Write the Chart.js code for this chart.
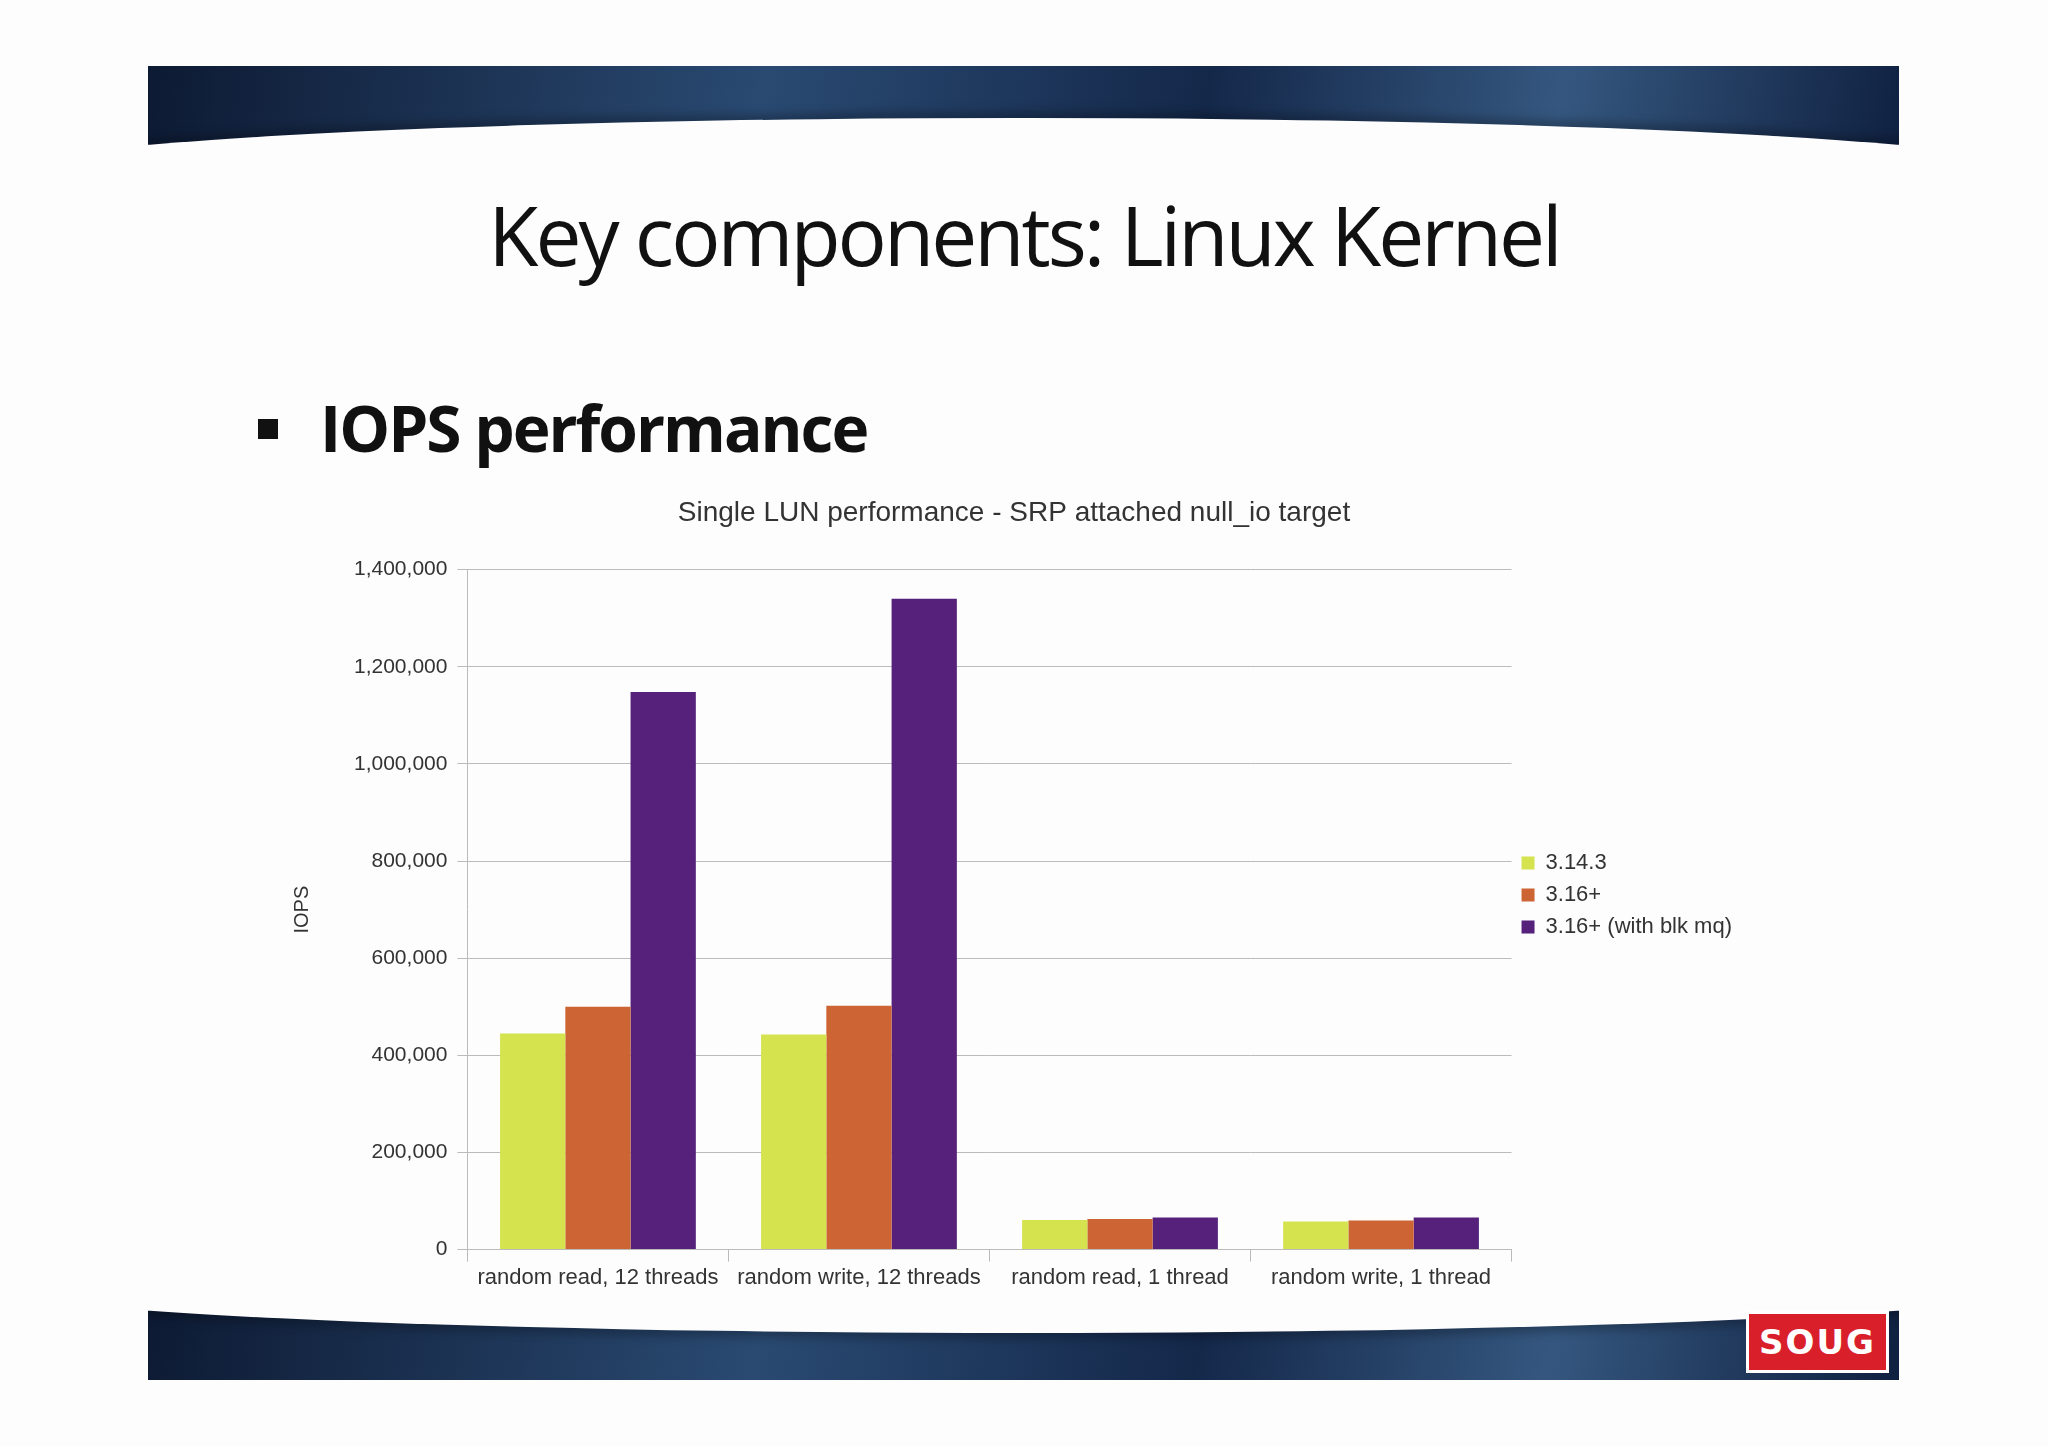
<!DOCTYPE html>
<html>
<head>
<meta charset="utf-8">
<script src="https://cdn.jsdelivr.net/npm/chart.js@4/dist/chart.umd.min.js"></script>
<style>
  html, body { margin: 0; padding: 0; background: #fff; }
  #slide { position: relative; width: 2048px; height: 1447px; background: #fdfdfe; overflow: hidden; }
  .band { position: absolute; left: 148px; width: 1751px; overflow: hidden;
    background: linear-gradient(100deg, #0d1a33 0%, #2a4a72 35%, #14284a 60%, #35577f 80%, #0f2040 100%); }
  #top { top: 66px; height: 130px; }
  #top::after { content: ""; position: absolute; left: -10%; width: 120%; top: 52px; height: 300px;
    border-radius: 50% 50% 0 0 / 60px 60px 0 0; background: #fdfdfe; box-shadow: 0 -6px 10px rgba(0,0,0,0.25); }
  #bottom { top: 1293px; height: 87px; }
  #bottom::before { content: ""; position: absolute; left: -10%; width: 120%; top: -260px; height: 300px;
    border-radius: 0 0 50% 50% / 0 0 50px 50px; background: #fdfdfe; box-shadow: 0 6px 10px rgba(0,0,0,0.25); }
  h1 { position: absolute; top: 178px; left: 0; width: 2048px; text-align: center; margin: 0;
    font: 500 82px "Open Sans", sans-serif; letter-spacing: -3px; color: #111; }
  #bullet { position: absolute; top: 384px; left: 258px; font: bold 64px "Open Sans", sans-serif; letter-spacing: -2px; color: #111; }
  #bullet span { display: inline-block; width: 20px; height: 20px; background: #111; margin-right: 42px; vertical-align: middle; position: relative; top: -6px; }
  #logo { position: absolute; left: 1746px; top: 1311px; width: 143px; height: 62px; background: #d9202a; border: 3px solid #fff; box-sizing: border-box;
    color: #fff; font: bold 34px "DejaVu Sans", sans-serif; text-align: center; line-height: 56px; letter-spacing: 2px; }
  #wrap { position: absolute; left: 286px; top: 496px; width: 1476px; height: 808px; }
</style>
</head>
<body>
<div id="slide">
  <div class="band" id="top"></div>
  <div class="band" id="bottom"></div>
  <h1>Key components: Linux Kernel</h1>
  <div id="bullet"><span></span>IOPS performance</div>
  <div id="logo">SOUG</div>
  <div id="wrap"><canvas id="c"></canvas></div>
</div>
<script>
const categories = ['random read, 12 threads', 'random write, 12 threads', 'random read, 1 thread', 'random write, 1 thread'];
const kernel3143 = [445000, 443000, 61000, 58000];
const kernel316 = [500000, 502000, 63000, 60000];
const kernel316mq = [1148000, 1340000, 66000, 66000];

Chart.defaults.font.family = '"Liberation Sans", Arial, sans-serif';
Chart.defaults.color = '#333';

new Chart(document.getElementById('c'), {
  type: 'bar',
  data: {
    labels: categories,
    datasets: [
      { label: '3.14.3', data: kernel3143, backgroundColor: '#d4e34e' },
      { label: '3.16+', data: kernel316, backgroundColor: '#cc6533' },
      { label: '3.16+ (with blk mq)', data: kernel316mq, backgroundColor: '#55217b' }
    ]
  },
  options: {
    responsive: true,
    maintainAspectRatio: false,
    animation: false,
    layout: { padding: { right: 20, bottom: 10 } },
    datasets: { bar: { categoryPercentage: 0.75, barPercentage: 1 } },
    plugins: {
      title: { display: true, text: 'Single LUN performance - SRP attached null_io target', font: { size: 28, weight: 'normal' }, color: '#333', padding: { top: 0, bottom: 40 } },
      legend: { position: 'right', labels: { boxWidth: 13, boxHeight: 13, font: { size: 22 }, padding: 10 } }
    },
    scales: {
      x: { grid: { color: '#bbb', offset: true, drawOnChartArea: false, tickLength: 12 }, border: { color: '#bbb' },
        ticks: { font: { size: 22 }, maxRotation: 0 } },
      y: { min: 0, max: 1400000, ticks: { stepSize: 200000, font: { size: 21 }, padding: 10,
          callback: v => v.toLocaleString('en-US') },
        grid: { color: '#bbb', tickLength: 10 }, border: { color: '#bbb' },
        title: { display: true, text: 'IOPS', font: { size: 20 }, padding: { bottom: 30 } } }
    }
  }
});
</script>
</body>
</html>
